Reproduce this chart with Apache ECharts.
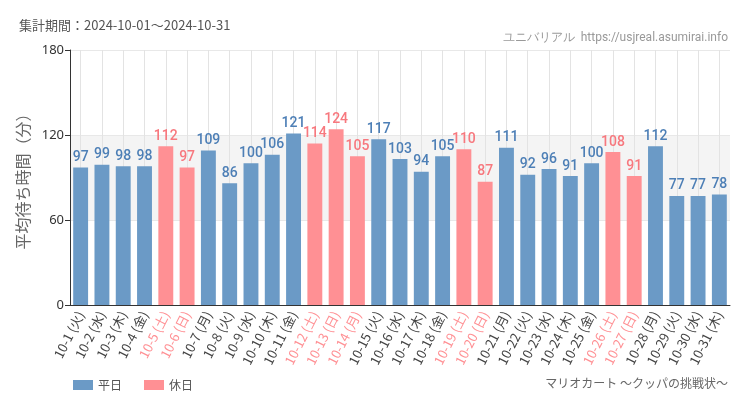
<!DOCTYPE html>
<html><head><meta charset="utf-8">
<script src="https://cdn.jsdelivr.net/npm/echarts@6/dist/echarts.min.js"></script>
<style>html,body{margin:0;padding:0;background:#fff}#c{width:750px;height:410px}</style>
</head><body><div id="c"></div>
<script>
const days = ['10-1','10-2','10-3','10-4','10-5','10-6','10-7','10-8','10-9','10-10','10-11','10-12','10-13','10-14','10-15','10-16','10-17','10-18','10-19','10-20','10-21','10-22','10-23','10-24','10-25','10-26','10-27','10-28','10-29','10-30','10-31'];
const weekdays = ['火','水','木','金','土','日','月','火','水','木','金','土','日','月','火','水','木','金','土','日','月','火','水','木','金','土','日','月','火','水','木'];
const holiday = [0,0,0,0,1,1,0,0,0,0,0,1,1,1,0,0,0,0,1,1,0,0,0,0,0,1,1,0,0,0,0];
const values = [97,99,98,98,112,97,109,86,100,106,121,114,124,105,117,103,94,105,110,87,111,92,96,91,100,108,91,112,77,77,78];
const yTicks = [0,60,120,180];

const BLUE='#6b9ac6', PINK='#ff9094', BLUE_T='#4d7fb6', PINK_T='#f7787e';
const cats = days.map((d,i)=>d+' ('+weekdays[i]+')');
const weekdayData = values.map((v,i)=>holiday[i]?'-':v);
const holidayData = values.map((v,i)=>holiday[i]?v:'-');
const CJK = '"Noto Sans CJK JP", "Noto Sans", sans-serif';
const NARROW = '"Roboto", sans-serif';

const chart = echarts.init(document.getElementById('c'), null, {renderer:'canvas'});
chart.setOption({
  backgroundColor:'#fff',
  animation:false,
  title:{text:'集計期間：2024-10-01～2024-10-31',left:14,top:14,textStyle:{fontFamily:CJK,fontSize:13,fontWeight:'normal',color:'#555'}},
  graphic:[
    {type:'text',right:22,top:32,style:{text:'ユニバリアル  https://usjreal.asumirai.info',fontFamily:NARROW,fontSize:12,fill:'#999'}},
    {type:'text',right:22,top:377,style:{text:'マリオカート ～クッパの挑戦状～',fontFamily:CJK,fontSize:12,fill:'#666'}}
  ],
  legend:{left:68,bottom:14,itemWidth:20,itemHeight:10,itemGap:22,icon:'rect',
    textStyle:{fontFamily:CJK,fontSize:12,color:'#555'},data:['平日','休日']},
  grid:{left:70,right:20,top:50,bottom:105},
  xAxis:{type:'category',data:cats,
    axisLine:{lineStyle:{color:'#333',width:1}},
    axisTick:{alignWithLabel:true,lineStyle:{color:'#333'}},
    splitLine:{show:true,alignWithLabel:true,lineStyle:{color:'#e3e3e3'}},
    axisLabel:{rotate:63,interval:0,fontFamily:CJK,fontSize:13,margin:7,
      color:(v,i)=>holiday[i]?PINK:'#444'}},
  yAxis:{type:'value',min:yTicks[0],max:yTicks[yTicks.length-1],interval:60,
    name:'平均待ち時間（分）',nameLocation:'middle',nameGap:34,
    nameTextStyle:{fontFamily:CJK,fontSize:16,color:'#666'},
    axisLine:{show:true,lineStyle:{color:'#333'}},
    axisTick:{show:true,lineStyle:{color:'#333'}},
    axisLabel:{fontFamily:'"Noto Sans", sans-serif',fontSize:13,color:'#333',margin:6},
    splitLine:{show:true,lineStyle:{color:'#e8e8e8'}},
    splitArea:{show:true,areaStyle:{color:['rgba(0,0,0,0)','#f4f4f4']}}},
  series:[
    {name:'平日',type:'bar',stack:'s',data:weekdayData,barWidth:'70%',
      itemStyle:{color:BLUE},
      label:{show:true,position:'top',distance:3,fontFamily:NARROW,fontSize:14,fontWeight:500,color:BLUE_T}},
    {name:'休日',type:'bar',stack:'s',data:holidayData,barWidth:'70%',
      itemStyle:{color:PINK},
      label:{show:true,position:'top',distance:3,fontFamily:NARROW,fontSize:14,fontWeight:500,color:PINK_T}}
  ]
});
</script></body></html>
